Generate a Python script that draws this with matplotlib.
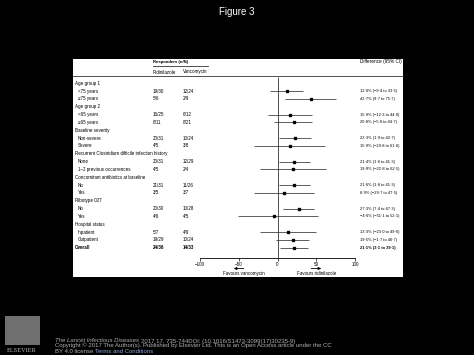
import numpy as np
import matplotlib
matplotlib.use("Agg")
import matplotlib.pyplot as plt
from matplotlib.patches import Rectangle
from matplotlib.transforms import blended_transform_factory

plt.rcParams['font.family'] = ['Liberation Sans Narrow', 'Liberation Sans', 'DejaVu Sans']

# rows of the forest plot (group headers have no values)
row_labels = ["Age group 1", "<75 years", "≥75 years",
              "Age group 2", "<65 years", "≥65 years",
              "Baseline severity", "Non-severe", "Severe",
              "Recurrent Clostridium difficile infection history", "None", "1–2 previous occurrences",
              "Concomitant antibiotics at baseline", "No", "Yes",
              "Ribotype 027", "No", "Yes",
              "Hospital status", "Inpatient", "Outpatient",
              "Overall"]
is_header = [1, 0, 0, 1, 0, 0, 1, 0, 0, 1, 0, 0, 1, 0, 0, 1, 0, 0, 1, 0, 0, 0]
ridinilazole = ["", "19/30", "5/6", "", "16/25", "8/11", "", "20/31", "4/5", "", "20/31", "4/5",
                "", "21/31", "3/5", "", "20/30", "4/6", "", "5/7", "19/29", "24/36"]
vancomycin = ["", "12/24", "2/9", "", "6/12", "8/21", "", "10/24", "3/8", "", "12/29", "2/4",
              "", "11/26", "3/7", "", "10/28", "4/5", "", "4/9", "10/24", "14/33"]
nan = np.nan
diff = [nan, 12.0, 42.7, nan, 15.9, 20.8, nan, 22.3, 15.9, nan, 21.4, 19.9,
        nan, 21.6, 8.9, nan, 27.3, -4.6, nan, 13.3, 19.5, 21.1]
ci_low = [nan, -9.4, 9.7, nan, -12.3, -5.0, nan, 1.9, -29.8, nan, 1.6, -22.8,
          nan, 1.8, -29.7, nan, 7.4, -51.1, nan, -23.0, -1.7, 3.1]
ci_high = [nan, 33.5, 75.7, nan, 44.0, 44.7, nan, 42.7, 61.6, nan, 41.3, 62.5,
           nan, 41.3, 47.5, nan, 47.3, 52.1, nan, 49.6, 40.7, 39.1]
x_ticks = [-100, -50, 0, 50, 100]

W, H = 474, 355
fig = plt.figure(figsize=(W / 100, H / 100), dpi=100, facecolor='black')
renderer = fig.canvas.get_renderer()

def fx(px):
    return px / W

def fy(py):
    return 1 - py / H

def fit_size(s, target_px, fs=4.0, **kw):
    # font size that gives the text a width of target_px pixels
    t = fig.text(0, 0, s, fontsize=fs, **kw)
    w = t.get_window_extent(renderer).width
    t.remove()
    return fs * target_px / w

def diff_text(i):
    s = f"{diff[i]:.1f}% ({ci_low[i]:.1f} to {ci_high[i]:.1f})"
    return s.replace('.', '·').replace('-', '−')

# white panel
fig.patches.append(Rectangle((fx(73), fy(277)), fx(403) - fx(73), fy(59) - fy(277),
                             transform=fig.transFigure, facecolor='white', edgecolor='none', zorder=-5))
fig.text(0.5, fy(12), "Figure 3", color='white', fontsize=7, ha='center', va='center',
         family=['Liberation Sans', 'DejaVu Sans'])

# row spacing in pixels: first row at 83.3 px, step 7.83 px
y0, dy = 83.3, 7.83
ax = fig.add_axes([fx(200), fy(277), fx(355) - fx(200), fy(59) - fy(277)], zorder=2)
ax.set_facecolor('none')
ax.set_xlim(-100, 100)
ax.set_ylim((277 - y0) / dy, (59 - y0) / dy)
axis_y = (258 - y0) / dy
for s in ['top', 'left', 'right']:
    ax.spines[s].set_visible(False)
ax.spines['bottom'].set_position(('data', axis_y))
ax.spines['bottom'].set_linewidth(0.6)
ax.set_xticks(x_ticks)
ax.set_xticklabels([str(t).replace('-', '−') for t in x_ticks])
fs_lab = fit_size(row_labels[9], 92)
fs_diff = fit_size(diff_text(1), 37)
fs_num = fit_size("Vancomycin", 24)
ax.tick_params(axis='x', length=2, width=0.6, pad=1, labelsize=fs_num, color='#333333')
ax.set_yticks([])

rows = np.arange(len(row_labels))
d = np.array(diff)
lo = np.array(ci_low)
hi = np.array(ci_high)
ok = ~np.isnan(d)
ax.hlines(rows[ok], lo[ok], hi[ok], color='#444444', lw=0.6)
ax.plot(d[ok], rows[ok], 's', color='black', ms=1.8)
ax.vlines(0, (77 - y0) / dy, axis_y, color='#333333', lw=0.6)

# favours arrows
arr_y = (268.5 - y0) / dy
ax.annotate("", xy=(-60, arr_y), xytext=(-40, arr_y),
            arrowprops=dict(arrowstyle='-|>', lw=0.6, color='black', mutation_scale=4))
ax.annotate("", xy=(60, arr_y), xytext=(40, arr_y),
            arrowprops=dict(arrowstyle='-|>', lw=0.6, color='black', mutation_scale=4))
ax.text(-44, (273.5 - y0) / dy, "Favours vancomycin", fontsize=fs_num, ha='center', va='center')
ax.text(50, (273.5 - y0) / dy, "Favours ridinilazole", fontsize=fs_num, ha='center', va='center')

# table text
tr = blended_transform_factory(fig.transFigure, ax.transData)
for i, lab in enumerate(row_labels):
    bold = 'bold' if lab == "Overall" else 'normal'
    x = 75 if (is_header[i] or lab == "Overall") else 78
    ax.text(fx(x), i, lab, transform=tr, fontsize=fs_lab, va='center', ha='left', weight=bold, clip_on=False)
    ax.text(fx(153), i, ridinilazole[i], transform=tr, fontsize=fs_num, va='center', ha='left', weight=bold)
    ax.text(fx(183), i, vancomycin[i], transform=tr, fontsize=fs_num, va='center', ha='left', weight=bold)
    if ok[i]:
        ax.text(fx(360), i, diff_text(i), transform=tr, fontsize=fs_diff, va='center', ha='left', weight=bold)

# header
fig.text(fx(153), fy(62), "Responders (n/N)", fontsize=fit_size("Responders (n/N)", 35, weight='bold'),
         weight='bold', ha='left', va='center')
fig.add_artist(plt.Line2D([fx(153), fx(208)], [fy(66), fy(66)], color='#333333', lw=0.6))
fig.text(fx(153), fy(72), "Ridinilazole", fontsize=fs_num, ha='left', va='center')
fig.text(fx(183), fy(72), "Vancomycin", fontsize=fs_num, ha='left', va='center')
fig.text(fx(360), fy(61), "Difference (95% CI)", fontsize=fit_size("Difference (95% CI)", 41),
         ha='left', va='center')
fig.add_artist(plt.Line2D([fx(73), fx(403)], [fy(76), fy(76)], color='#333333', lw=0.6))

# footer
fig.patches.append(Rectangle((fx(5), fy(345)), fx(40) - fx(5), fy(316) - fy(345),
                             transform=fig.transFigure, facecolor='#8c8c8c', edgecolor='none',
                             hatch='////', alpha=0.8))
fig.text(fx(22), fy(351), "ELSEVIER", color='#bbbbbb', fontsize=4.5, ha='center', va='center',
         family=['Liberation Serif', 'DejaVu Serif'])
copy_line = "Copyright © 2017 The Author(s). Published by Elsevier Ltd. This is an Open Access article under the CC"
ffam = ['Liberation Sans', 'DejaVu Sans']
foot = dict(color='#b0b0b0', fontsize=fit_size(copy_line, 272, family=ffam), ha='left', va='center', family=ffam)
t1 = fig.text(fx(55), fy(341), "The Lancet Infectious Diseases ", style='italic', **foot)
x_end = t1.get_window_extent(renderer).x1
fig.text(x_end / W, fy(341), "2017 17, 735-744DOI: (10.1016/S1473-3099(17)30235-9)", **foot)
fig.text(fx(55), fy(345.5), copy_line, **foot)
t2 = fig.text(fx(55), fy(351.5), "BY 4.0 license ", **foot)
x_end = t2.get_window_extent(renderer).x1
fig.text(x_end / W, fy(351.5), "Terms and Conditions", **{**foot, 'color': '#8fa8d8'})

fig.savefig("out.png", dpi=100, facecolor='black')
